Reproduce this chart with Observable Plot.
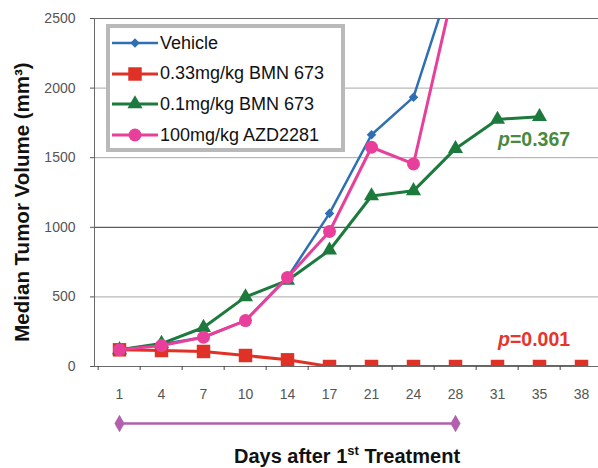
<!DOCTYPE html>
<html><head><meta charset="utf-8">
<script src="https://cdn.jsdelivr.net/npm/d3@7"></script>
<script src="https://cdn.jsdelivr.net/npm/@observablehq/plot@0.6"></script>
<style>
html,body{margin:0;padding:0;background:#fff;overflow:hidden}
#wrap{position:relative;width:598px;height:468px;overflow:hidden;font-family:Arial,"Liberation Sans",sans-serif;background:#fff}
#chart{position:absolute;left:0;top:0;width:620px}
#chart svg{max-width:none !important}
.legend{position:absolute;left:106px;top:24px;width:231px;height:120px;border:4px solid #b9b9b9;background:#fff;box-sizing:content-box}
.legend .row{position:absolute;left:2px;height:20px;display:flex;align-items:center;font-size:18px;color:#111;white-space:nowrap}
.legend svg{display:block;margin-right:2px}
.pval{position:absolute;font-weight:bold;font-size:19.5px;line-height:19.5px;white-space:nowrap}
.ytitle{position:absolute;left:22px;top:202px;transform:translate(-50%,-50%) rotate(-90deg);font-weight:bold;font-size:20.5px;white-space:nowrap;color:#111}
.xtitle{position:absolute;left:347px;top:446px;transform:translateX(-50%);font-weight:bold;font-size:20px;line-height:20px;white-space:nowrap;color:#111}
.xtitle sup{font-size:13px;vertical-align:8px;line-height:0}
</style></head><body><div id="wrap"><div id="chart"></div></div>
<script>
const days = ["1","4","7","10","14","17","21","24","28","31","35","38"];
const seriesNames = ["Vehicle","0.33mg/kg BMN 673","0.1mg/kg BMN 673","100mg/kg AZD2281"];
const vehicle = [120,160,210,330,640,1100,1665,1935,2870];
const bmn033 = [120,115,108,79,48,0,0,0,0,0,0,0];
const bmn01 = [120,165,280,500,618,835,1225,1262,1565,1775,1795];
const azd2281 = [120,150,210,330,640,970,1575,1455,2770];
const yTicks = [0,500,1000,1500,2000,2500];
const treatmentDays = ["1","28"];
const pValues = [{text:"0.367", series:2}, {text:"0.001", series:1}];

const colors = ["#2f6fb3","#e03127","#1c7a3c","#e8409a"];
const symbols = ["square","square","triangle","circle"];
const radii = [3.8,7.6,5.6,6.5];
const rotates = [45,0,0,0];
const widths = [2.5,3,3,3];

const allSeries = [vehicle,bmn033,bmn01,azd2281];
const rows = allSeries.map((vals,s)=>vals.map((v,i)=>({day:days[i], value:v, s})));

const W = 620, ML = 94, MR = 14;
const step = (W - ML - MR) / days.length;

const marks = [
  Plot.ruleY(yTicks.slice(1), {stroke: d => d === 1000 ? "#333" : "#a8a8a8", strokeWidth: 1}),
  Plot.frame({stroke:"#6a6a6a"}),
  Plot.axisY({ticks: yTicks, tickFormat: d => String(d), tickSize: 4, tickPadding: 15, color:"#555", fontSize: 14, label: null}),
  Plot.axisX(days, {tickSize: 4, tickFormat: () => "", dx: -step/2, color:"#444", label: null}),
  Plot.axisX(days, {tickSize: 0, tickPadding: 23, color:"#555", fontSize: 14, label: null}),
  Plot.line(treatmentDays, {x: d=>d, y: () => 0, dy: 57, stroke:"#b45fad", strokeWidth: 2.5}),
  Plot.dot(treatmentDays, {x: d=>d, y: () => 0, dy: 57, symbol:"diamond", r: 5.3, fill:"#b45fad"})
];
rows.forEach((data,s)=>{
  marks.push(Plot.line(data, {x:"day", y:"value", stroke: colors[s], strokeWidth: widths[s], clip: true}));
  marks.push(Plot.dot(data, {x:"day", y:"value", symbol: symbols[s], r: radii[s], rotate: rotates[s], fill: colors[s], stroke: "none", clip: true}));
});

const chart = Plot.plot({
  width: W, height: 468,
  marginLeft: ML, marginRight: MR, marginTop: 18, marginBottom: 102,
  x: {type:"point", domain: days, padding: 0.5, axis: null},
  y: {domain:[0,2500], axis: null},
  style: {fontFamily: "Arial, 'Liberation Sans', sans-serif", fontSize: "14px", background: "white", maxWidth: "none"},
  marks
});
document.getElementById("chart").appendChild(chart);

const wrap = document.getElementById("wrap");
// legend
const legend = document.createElement("div");
legend.className = "legend";
seriesNames.forEach((name,s)=>{
  const row = document.createElement("div");
  row.className = "row";
  row.style.top = (5 + s*30.7) + "px";
  const ns = "http://www.w3.org/2000/svg";
  const svg = document.createElementNS(ns,"svg");
  svg.setAttribute("width",46); svg.setAttribute("height",20);
  const ln = document.createElementNS(ns,"line");
  ln.setAttribute("x1",0); ln.setAttribute("x2",46); ln.setAttribute("y1",10); ln.setAttribute("y2",10);
  ln.setAttribute("stroke",colors[s]); ln.setAttribute("stroke-width",widths[s]);
  svg.appendChild(ln);
  const sym = {square:d3.symbolSquare, triangle:d3.symbolTriangle, circle:d3.symbolCircle}[symbols[s]];
  const p = document.createElementNS(ns,"path");
  p.setAttribute("d", d3.symbol(sym, radii[s]*radii[s]*Math.PI)());
  p.setAttribute("transform", `translate(23,10) rotate(${rotates[s]})`);
  p.setAttribute("fill", colors[s]);
  svg.appendChild(p);
  row.appendChild(svg);
  const t = document.createElement("span");
  t.textContent = name;
  row.appendChild(t);
  legend.appendChild(row);
});
wrap.appendChild(legend);

// p-values
const pTops = {2:130, 1:330};
pValues.forEach(pv=>{
  const d = document.createElement("div");
  d.className = "pval";
  d.style.left = "498px";
  d.style.top = pTops[pv.series] + "px";
  d.style.color = pv.series === 2 ? "#4a8a3e" : "#e8342a";
  d.innerHTML = "<i>p</i>=" + pv.text;
  wrap.appendChild(d);
});

const yt = document.createElement("div");
yt.className = "ytitle";
yt.textContent = "Median Tumor Volume (mm³)";
wrap.appendChild(yt);
const xt = document.createElement("div");
xt.className = "xtitle";
xt.innerHTML = "Days after 1<sup>st</sup> Treatment";
wrap.appendChild(xt);
</script></body></html>
